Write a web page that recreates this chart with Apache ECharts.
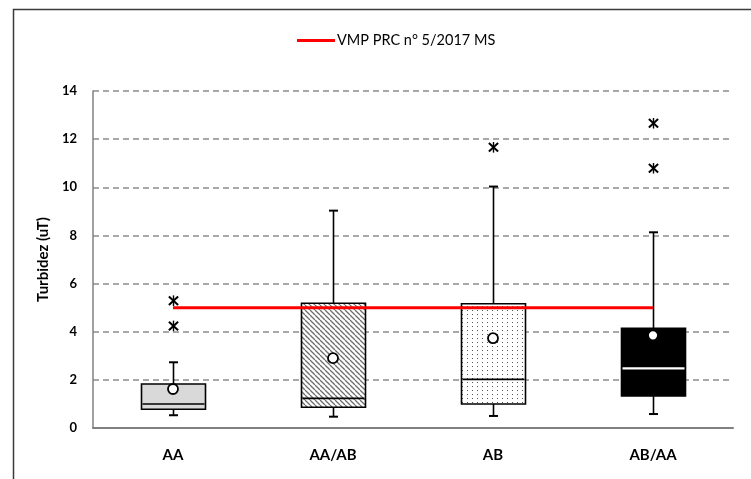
<!DOCTYPE html>
<html>
<head>
<meta charset="utf-8">
<script src="https://cdn.jsdelivr.net/npm/echarts@6/dist/echarts.min.js"></script>
<style>html,body{margin:0;padding:0;background:#fff;}#c{width:751px;height:479px;}</style>
</head>
<body>
<div id="c"></div>
<script>
// ---- data ----
var categories = ['AA', 'AA/AB', 'AB', 'AB/AA'];
var whiskerLow = [0.53, 0.47, 0.50, 0.58];
var q1 = [0.78, 0.86, 1.00, 1.33];
var median = [1.00, 1.23, 2.02, 2.48];
var q3 = [1.83, 5.18, 5.16, 4.14];
var whiskerHigh = [2.73, 9.03, 10.03, 8.13];
var means = [1.62, 2.90, 3.73, 3.85];
var outlierCat = [0, 0, 2, 3, 3];
var outlierVal = [5.29, 4.24, 11.66, 12.66, 10.79];
var limitName = 'VMP PRC n° 5/2017 MS';
var limitValues = [5, 5, 5, 5];
var yTicks = { min: 0, max: 14, interval: 2 };

// ---- patterns ----
function hatch() {
  var s = 5, c = document.createElement('canvas');
  c.width = s; c.height = s;
  var g = c.getContext('2d');
  g.fillStyle = '#fff'; g.fillRect(0, 0, s, s);
  g.strokeStyle = '#6e6e6e'; g.lineWidth = 1.3;
  for (var k = -1; k <= 1; k++) {
    g.beginPath(); g.moveTo(k * s, 0); g.lineTo(k * s + s, s); g.stroke();
  }
  return { image: c, repeat: 'repeat' };
}
function dots() {
  var c = document.createElement('canvas');
  c.width = 5; c.height = 4;
  var g = c.getContext('2d');
  g.fillStyle = '#fff'; g.fillRect(0, 0, 5, 4);
  g.fillStyle = '#555'; g.fillRect(2, 2, 1, 1);
  return { image: c, repeat: 'repeat' };
}
var fills = ['#d9d9d9', hatch(), dots(), '#000'];
var medianColors = ['#000', '#000', '#000', '#fff'];

var boxData = categories.map(function (c, i) {
  return [i, whiskerLow[i], q1[i], median[i], q3[i], whiskerHigh[i]];
});
var meanData = categories.map(function (c, i) { return [i, means[i]]; });
var outData = outlierCat.map(function (c, i) { return [c, outlierVal[i]]; });

var chart = echarts.init(document.getElementById('c'));
var FONT = 'Lato';
chart.setOption({
  animation: false,
  textStyle: { fontFamily: FONT },
  graphic: [{
    type: 'rect', z: -1, silent: true,
    shape: { x: 13.5, y: 9.5, width: 800, height: 600 },
    style: { fill: 'none', stroke: '#3a3a3a', lineWidth: 1.5 }
  }],
  legend: {
    data: [{ name: limitName, icon: 'rect' }],
    left: 292, top: 28,
    itemWidth: 38, itemHeight: 3, itemGap: 4,
    textStyle: { fontFamily: FONT, fontSize: 14.5, color: '#000', padding: [0, 0, 0, -3] }
  },
  grid: { left: 93, right: 18, top: 91, bottom: 51 },
  xAxis: {
    type: 'category', data: categories, boundaryGap: true,
    axisTick: { show: false },
    axisLine: { lineStyle: { color: '#808080', width: 2 } },
    axisLabel: { color: '#000', fontWeight: 'bold', fontSize: 15, margin: 20, fontFamily: FONT },
    splitLine: { show: false }
  },
  yAxis: {
    type: 'value', min: yTicks.min, max: yTicks.max, interval: yTicks.interval,
    name: 'Turbidez (uT)', nameLocation: 'middle', nameGap: 42,
    nameTextStyle: { color: '#000', fontWeight: 'bold', fontSize: 15, fontFamily: FONT },
    axisLine: { show: true, lineStyle: { color: '#808080', width: 1.5 } },
    axisTick: { show: false },
    axisLabel: { color: '#000', fontWeight: 'bold', fontSize: 13, margin: 16, fontFamily: FONT },
    splitLine: { lineStyle: { color: '#8c8c8c', width: 1.5, type: [6, 4] } }
  },
  series: [
    {
      type: 'custom', name: 'box', z: 2,
      data: boxData,
      encode: { x: 0, y: [1, 2, 3, 4, 5] },
      renderItem: function (params, api) {
        var i = params.dataIndex;
        var x = api.value(0);
        var lo = api.coord([x, api.value(1)]);
        var b = api.coord([x, api.value(2)]);
        var m = api.coord([x, api.value(3)]);
        var t = api.coord([x, api.value(4)]);
        var hi = api.coord([x, api.value(5)]);
        var bw = api.size([1, 0])[0] * 0.4;
        var cx = Math.round(lo[0]) + 0.5;
        var cap = 4.5;
        var ls = { stroke: '#000', lineWidth: 1.6 };
        return {
          type: 'group',
          children: [
            { type: 'line', shape: { x1: cx, y1: lo[1], x2: cx, y2: b[1] }, style: ls },
            { type: 'line', shape: { x1: cx, y1: hi[1], x2: cx, y2: t[1] }, style: ls },
            { type: 'line', shape: { x1: cx - cap, y1: lo[1], x2: cx + cap, y2: lo[1] }, style: { stroke: '#000', lineWidth: 2 } },
            { type: 'line', shape: { x1: cx - cap, y1: hi[1], x2: cx + cap, y2: hi[1] }, style: { stroke: '#000', lineWidth: 2 } },
            { type: 'rect', shape: { x: cx - bw / 2, y: t[1], width: bw, height: b[1] - t[1] },
              style: { fill: fills[i], stroke: '#000', lineWidth: 1.6 } },
            { type: 'line', shape: { x1: cx - bw / 2 + 1, y1: m[1], x2: cx + bw / 2 - 1, y2: m[1] },
              style: { stroke: medianColors[i], lineWidth: i === 3 ? 2.2 : 1.6 } }
          ]
        };
      }
    },
    {
      type: 'line', name: limitName, data: limitValues, z: 4,
      symbol: 'none', color: '#ff0000',
      lineStyle: { color: '#ff0000', width: 3 }
    },
    {
      type: 'scatter', name: 'mean', data: meanData, z: 5,
      symbol: 'circle', symbolSize: 10,
      itemStyle: { color: '#fff', borderColor: '#000', borderWidth: 1.8, opacity: 1 }
    },
    {
      type: 'custom', name: 'outliers', data: outData, z: 5,
      encode: { x: 0, y: 1 },
      renderItem: function (params, api) {
        var p = api.coord([api.value(0), api.value(1)]);
        var r = 5.3, cx = Math.round(p[0]) + 0.5, cy = p[1];
        var st = { stroke: '#000', lineWidth: 2 };
        var dx = r * 0.87, dy = r * 0.8;
        return {
          type: 'group',
          children: [
            { type: 'line', shape: { x1: cx - dx, y1: cy - dy, x2: cx + dx, y2: cy + dy }, style: st },
            { type: 'line', shape: { x1: cx - dx, y1: cy + dy, x2: cx + dx, y2: cy - dy }, style: st },
            { type: 'line', shape: { x1: cx, y1: cy - r, x2: cx, y2: cy + r }, style: { stroke: '#000', lineWidth: 1.4 } }
          ]
        };
      }
    }
  ]
});
</script>
</body>
</html>
